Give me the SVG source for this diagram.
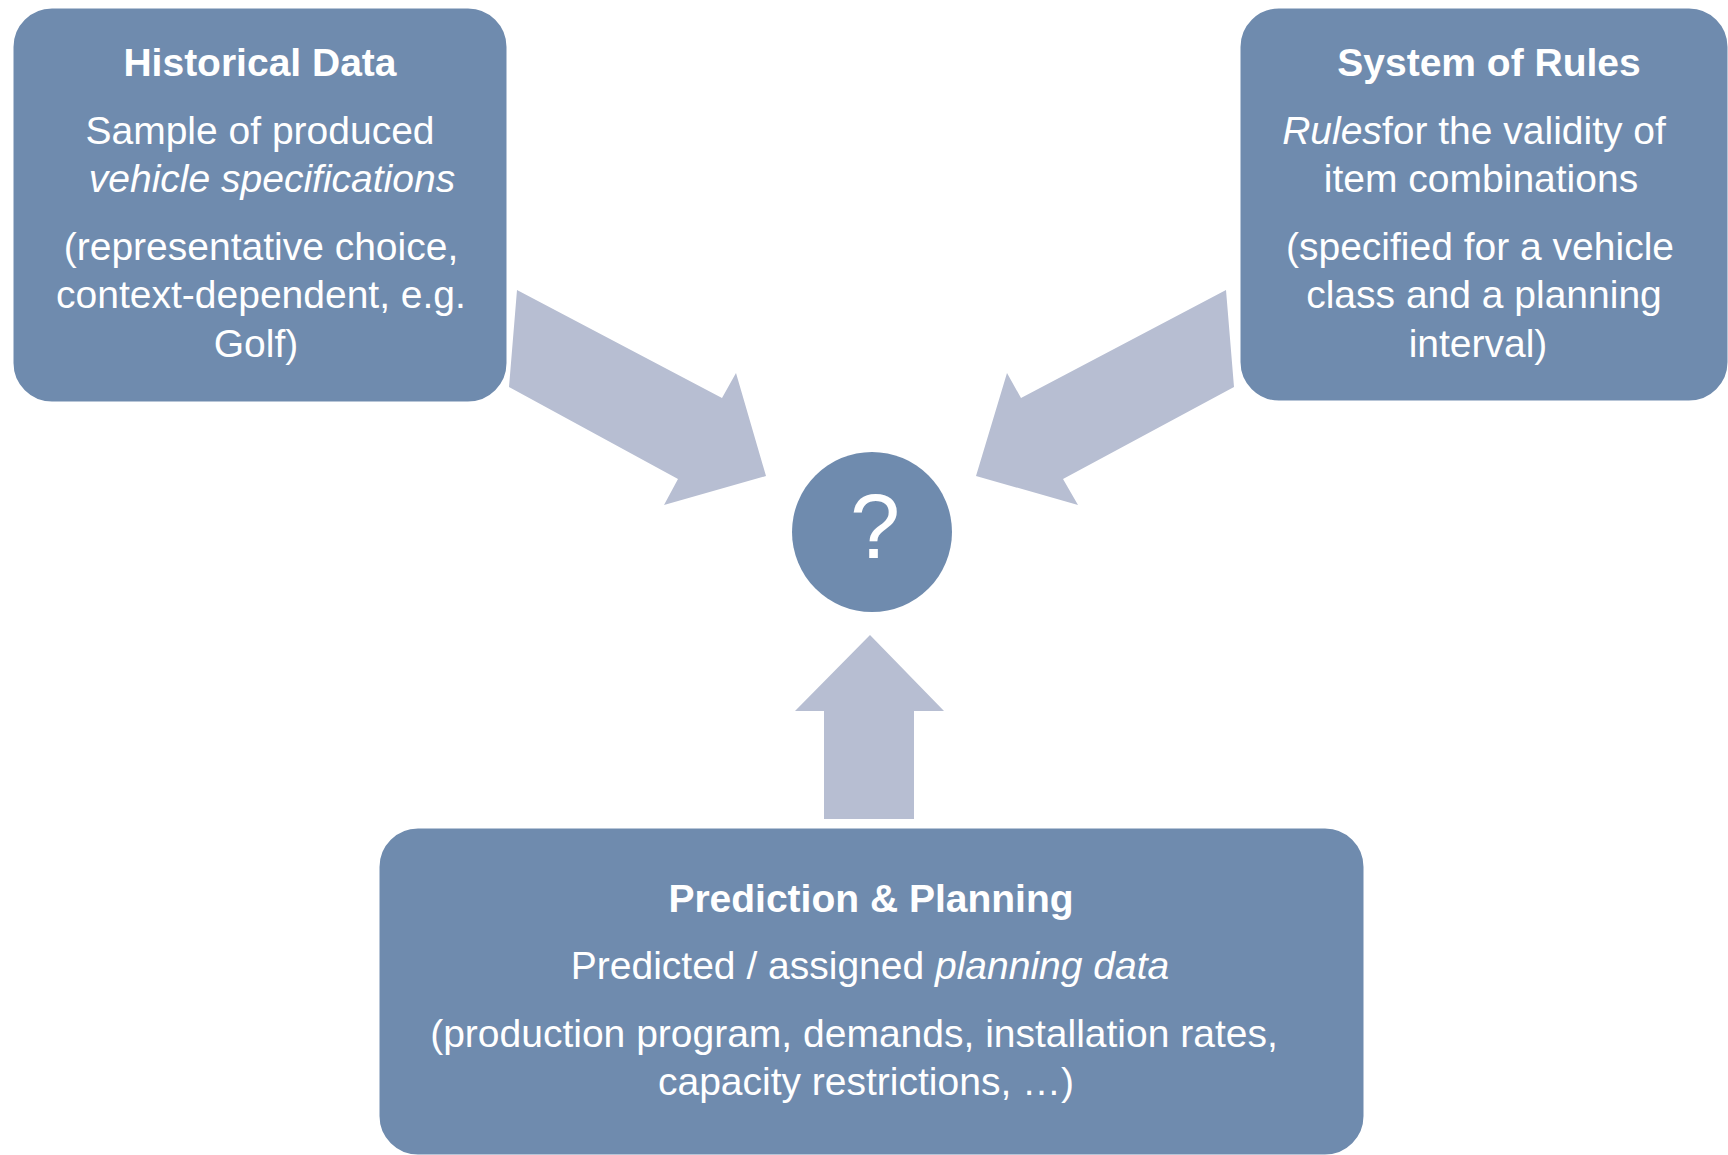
<svg xmlns="http://www.w3.org/2000/svg" width="1728" height="1155" viewBox="0 0 1728 1155">
<style>
.box{fill:#6f8bae;stroke:#ffffff;stroke-width:3}
.arr{fill:#b7bed2}
text{font-family:"Liberation Sans",Arial,sans-serif;fill:#ffffff;text-anchor:middle}
.t{font-size:39px;font-weight:bold}
.b{font-size:39px}
.i{font-style:italic}
</style>
<rect width="1728" height="1155" fill="#ffffff"/>
<g id="connectors">
<polygon class="arr" points="517,290 722,398 736,373 766,476 664,505 678,479 509,387"/>
<polygon class="arr" points="1226,290 1021,398 1007,373 976,476 1078,505 1063,479 1234,387"/>
<polygon class="arr" points="870,635 944,711 914,711 914,819 824,819 824,711 795,711"/>
</g>
<g id="historical-data">
<rect class="box" x="12" y="7" width="496" height="396" rx="40"/>
<text class="t" x="260" y="76">Historical Data</text>
<text class="b" x="260" y="144">Sample of produced</text>
<text class="b i" x="272" y="192">vehicle specifications</text>
<text class="b" x="261" y="260">(representative choice,</text>
<text class="b" x="261" y="308">context-dependent, e.g.</text>
<text class="b" x="256" y="357">Golf)</text>
</g>
<g id="system-of-rules">
<rect class="box" x="1239" y="7" width="490" height="395" rx="40"/>
<text class="t" x="1489" y="76">System of Rules</text>
<text class="b" x="1474" y="144"><tspan class="i">Rules</tspan>for the validity of</text>
<text class="b" x="1481" y="192">item combinations</text>
<text class="b" x="1480" y="260">(specified for a vehicle</text>
<text class="b" x="1484" y="308">class and a planning</text>
<text class="b" x="1478" y="357">interval)</text>
</g>
<g id="question">
<circle cx="872" cy="532" r="80" fill="#6f8bae"/>
<text x="875" y="558" style="font-size:90px">?</text>
</g>
<g id="prediction-planning">
<rect class="box" x="378" y="827" width="987" height="329" rx="40"/>
<text class="t" x="871" y="912">Prediction &amp; Planning</text>
<text class="b" x="870" y="979">Predicted / assigned <tspan class="i">planning data</tspan></text>
<text class="b" x="854" y="1047">(production program, demands, installation rates,</text>
<text class="b" x="866" y="1095">capacity restrictions, …)</text>
</g>
</svg>
